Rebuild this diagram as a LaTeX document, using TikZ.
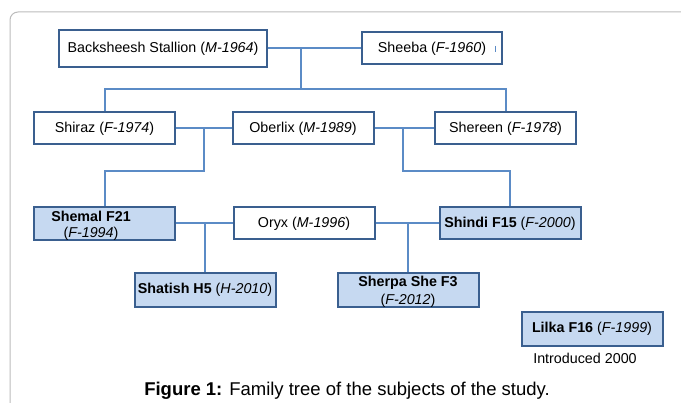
\documentclass[tikz,border=0pt]{standalone}
\usepackage{fontspec}
\setmainfont{Liberation Sans}
\definecolor{boxblue}{HTML}{3A5F8F}
\definecolor{linkblue}{HTML}{5B8BC6}
\definecolor{foalfill}{HTML}{C6D9F1}
\definecolor{framegrey}{HTML}{BBBBBB}
\begin{document}
\begin{tikzpicture}[x=1pt,y=-1pt]
  \tikzstyle{every node}+=[inner sep=0pt, font=\fontsize{14.3}{16}\selectfont]
  \tikzstyle{horse}=[draw=boxblue, line width=2pt, fill=white, minimum width=141pt, minimum height=32pt]
  \tikzstyle{foal}=[fill=foalfill]
  \tikzstyle{link}=[draw=linkblue, line width=2pt]
  \useasboundingbox (0,0) rectangle (681,403);
  \draw [framegrey, line width=1pt, rounded corners=8pt] (10,403) -- (10,12) -- (681,12);
  % first generation
  \node [horse, minimum width=208pt, minimum height=37pt] (stallion) at (163,48.5) {Backsheesh Stallion (\textit{M-1964})};
  \node [horse, minimum width=140pt] (sheeba) at (432,48.5) {Sheeba (\textit{F-1960})};
  \draw [link, line width=1pt] (495,46) -- (495,52);
  % second generation
  \node [horse] (shiraz) at (104.5,128.5) {Shiraz (\textit{F-1974})};
  \node [horse] (oberlix) at (303,128.5) {Oberlix (\textit{M-1989})};
  \node [horse] (shereen) at (505.5,128.5) {Shereen (\textit{F-1978})};
  % third generation
  \node [horse, foal, minimum height=33pt] (shemal) at (104.5,223.5)
    {\raisebox{-2.5pt}[\height][\depth]{\begin{tabular}{@{}c@{}}\textbf{Shemal F21}\\(\textit{F-1994})\end{tabular}}\kern27pt};
  \node [horse] (oryx) at (304,223.5) {Oryx (\textit{M-1996})};
  \node [horse, foal] (shindi) at (510,223.5) {\textbf{Shindi F15} (\textit{F-2000})};
  % fourth generation
  \node [horse, foal, minimum height=34pt] (shatish) at (205,290) {\textbf{Shatish H5} (\textit{H-2010})};
  \node [horse, foal, minimum height=34pt] (sherpa) at (408,290)
    {\raisebox{-2.5pt}[\height][\depth]{\begin{tabular}{@{}c@{}}\textbf{Sherpa She F3}\\[2pt](\textit{F-2012})\end{tabular}}};
  \node [horse, foal, minimum height=34pt] (lilka) at (592,329) {\textbf{Lilka F16} (\textit{F-1999})};
  \node (intro) at (585,358) {Introduced 2000};
  \node [font=\fontsize{18.5}{20}\selectfont] (caption) at (347,390.5)
    {\textbf{Figure 1:} Family tree of the subjects of the study.};
  % connectors
  \coordinate (j1) at (301,48.5);
  \coordinate (g1) at (301,89);
  \draw [link] (stallion.east) -- (sheeba.west);
  \draw [link] (j1) -- (g1);
  \draw [link] (shiraz.north) |- (g1) -| (shereen.north);
  \coordinate (j2) at (204,128.5);
  \coordinate (j3) at (403,128.5);
  \draw [link] (shiraz.east) -- (oberlix.west);
  \draw [link] (oberlix.east) -- (shereen.west);
  \draw [link] (j2) -- ++(0,42.5) -| (shemal.north);
  \draw [link] (j3) -- ++(0,42.5) -| (shindi.north);
  \coordinate (j4) at (205,223.5);
  \coordinate (j5) at (408,223.5);
  \draw [link] (shemal.east) -- (oryx.west);
  \draw [link] (oryx.east) -- (shindi.west);
  \draw [link] (j4) -- (shatish.north);
  \draw [link] (j5) -- (sherpa.north);
\end{tikzpicture}
\end{document}
